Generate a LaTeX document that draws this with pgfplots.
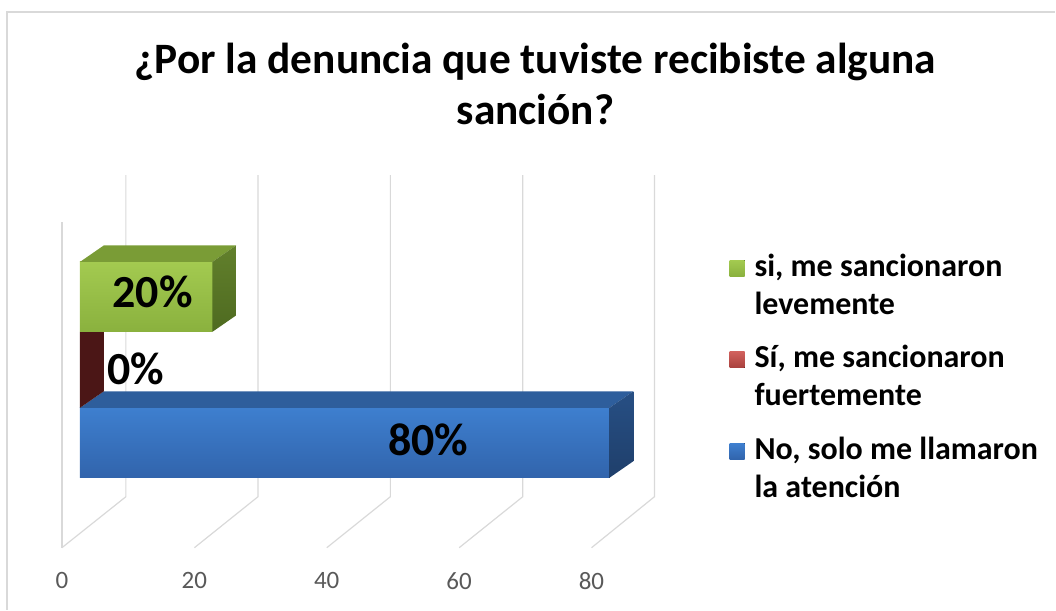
\documentclass[border=0pt]{standalone}
\usepackage{pgfplots}
\pgfplotsset{compat=1.18}
\usepackage{fontspec}
\setmainfont{Carlito}
\definecolor{gridc}{HTML}{D9D9D9}
\definecolor{tickc}{HTML}{595959}
\definecolor{bluehi}{HTML}{3E7FCF}
\definecolor{bluelo}{HTML}{3164AC}
\definecolor{bluetop}{HTML}{2E5E9C}
\definecolor{blueside}{HTML}{274F84}
\definecolor{bluesidelo}{HTML}{1F3F6B}
\definecolor{greenhi}{HTML}{A3CA50}
\definecolor{greenlo}{HTML}{8AB13E}
\definecolor{greentop}{HTML}{7A9C36}
\definecolor{greenside}{HTML}{62802C}
\definecolor{greensidelo}{HTML}{4E6A20}
\definecolor{redhi}{HTML}{D0605C}
\definecolor{redlo}{HTML}{A8403D}
\definecolor{redend}{HTML}{4B1616}
\newcommand{\lentry}[2]{\begin{tabular}[t]{@{}l@{}}#1\\#2\end{tabular}}
\begin{document}
\begin{tikzpicture}
\begin{axis}[
  width=528pt, height=305pt, scale only axis,
  xmin=-12.075, xmax=147.32, ymin=0, ymax=610,
  axis line style={draw=none},
  major tick length=0pt,
  xtick={0,20,40,60,80}, ytick=\empty,
  xticklabel style={anchor=center, xshift=-9pt, yshift=14.5pt,
    font=\fontsize{12.5}{15}\selectfont, text=tickc},
  /pgf/number format/assume math mode=true,
  clip=false,
  reverse legend,
  legend style={at={(axis cs:98.1,360.6)}, anchor=north west, draw=none, fill=none,
    inner sep=0pt, row sep=31pt,
    font=\fontsize{16}{19}\selectfont\bfseries,
    cells={anchor=base west}, nodes={inner sep=0pt}},
  sq/.style={legend image code/.code={
      \fill[##1] (0pt,0pt) rectangle (7.5pt,8pt);
      \path (12.5pt,0pt);}},
]
% chart border
\draw[gridc, line width=1pt] (axis cs:-11.02,0) -- (axis cs:-11.02,598) -- (axis cs:147.32,598);
% 3D gridlines
\draw[gridc, line width=0.6pt] (axis cs:-2.717,62) -- (axis cs:-2.717,388);
\draw[gridc, line width=0.6pt] (axis cs:6.94,435) -- (axis cs:6.94,113) -- (axis cs:-2.717,62);
\draw[gridc, line width=0.6pt] (axis cs:26.9,435) -- (axis cs:26.9,113) -- (axis cs:17.3,62);
\draw[gridc, line width=0.6pt] (axis cs:46.9,435) -- (axis cs:46.9,113) -- (axis cs:37.3,62);
\draw[gridc, line width=0.6pt] (axis cs:66.9,435) -- (axis cs:66.9,113) -- (axis cs:57.3,62);
\draw[gridc, line width=0.6pt] (axis cs:86.8,435) -- (axis cs:86.8,113) -- (axis cs:77.3,62);
% title
\node[anchor=base, font=\fontsize{21.7}{26}\selectfont\bfseries] at (axis cs:68.83,537) {¿Por la denuncia que tuviste recibiste alguna};
\node[anchor=base, font=\fontsize{21.7}{26}\selectfont\bfseries] at (axis cs:68.83,486) {sanción?};

% blue bar: No, solo me llamaron la atencion = 80
\addplot[xbar, bar width=70, draw=none, top color=bluehi, bottom color=bluelo, sq]
  coordinates {(80,167)};
\addlegendentry{\lentry{No, solo me llamaron}{la atención}}
\addplot[forget plot, draw=none, fill=bluetop]
  coordinates {(0,202) (80,202) (83.6,218.5) (3.6,218.5)} --cycle;
\addplot[forget plot, draw=none, top color=blueside, bottom color=bluesidelo]
  coordinates {(80,132) (83.6,148.5) (83.6,218.5) (80,202)} --cycle;

% red bar: Si, me sancionaron fuertemente = 0
\addplot[xbar, bar width=76, draw=none, top color=redhi, bottom color=redlo, sq]
  coordinates {(0,240)};
\addlegendentry{\lentry{Sí, me sancionaron}{fuertemente}}
\addplot[forget plot, draw=none, fill=redend]
  coordinates {(0,202) (0,278) (3.6,294.5) (3.6,218.5)} --cycle;

% green bar: si, me sancionaron levemente = 20
\addplot[xbar, bar width=70, draw=none, top color=greenhi, bottom color=greenlo, sq]
  coordinates {(20,313)};
\addlegendentry{\lentry{si, me sancionaron}{levemente}}
\addplot[forget plot, draw=none, fill=greentop]
  coordinates {(0,348) (20,348) (23.6,364.5) (3.6,364.5)} --cycle;
\addplot[forget plot, draw=none, top color=greenside, bottom color=greensidelo]
  coordinates {(20,278) (23.6,294.5) (23.6,364.5) (20,348)} --cycle;

% data labels
\node[anchor=base, font=\fontsize{23}{26}\selectfont\bfseries] at (axis cs:52.6,154) {80\%};
\node[anchor=base, font=\fontsize{23}{26}\selectfont\bfseries] at (axis cs:11.0,302) {20\%};
\node[anchor=base, font=\fontsize{23}{26}\selectfont\bfseries] at (axis cs:8.4,225) {0\%};
\end{axis}
\end{tikzpicture}
\end{document}
